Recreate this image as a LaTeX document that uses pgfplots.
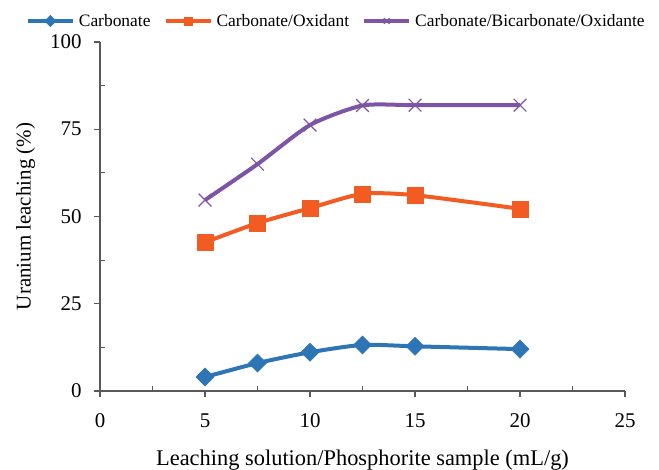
\documentclass[border=0pt]{standalone}
\usepackage{pgfplots}
\pgfplotsset{compat=1.18}
\usepackage{fontspec}
\setmainfont{Liberation Serif}
\definecolor{cblue}{HTML}{2E75B6}
\definecolor{corange}{HTML}{F25C22}
\definecolor{cpurple}{HTML}{7E55A6}
\definecolor{axgray}{HTML}{595959}
\newcommand{\tf}{\fontsize{21}{23}\selectfont}
\begin{document}
\begin{tikzpicture}[x=1bp,y=1bp]
\path[use as bounding box] (-100,-79) rectangle (559,391);
\begin{axis}[
  at={(0,0)}, anchor=origin,
  scale only axis, width=525bp, height=349bp,
  xmin=0, xmax=25, ymin=0, ymax=100,
  xtick={0,5,10,15,20,25}, ytick={0,25,50,75,100},
  xticklabels={{\tf 0},{\tf 5},{\tf 10},{\tf 15},{\tf 20},{\tf 25}},
  yticklabels={{\tf 0},{\tf 25},{\tf 50},{\tf 75},{\tf 100}},
  minor xtick={2.5,7.5,...,22.5}, minor ytick={12.5,37.5,62.5,87.5},
  axis x line=bottom, axis y line=left,
  axis line style={axgray, line width=1.1pt, -},
  major tick style={axgray, line width=1.1pt},
  minor tick style={axgray, line width=1.1pt},
  tick align=outside,
  major tick length=6bp, minor tick length=-5bp,
  xticklabel style={yshift=-13bp},
  yticklabel style={xshift=-9bp},
  xlabel={Leaching solution/Phosphorite sample (mL/g)},
  ylabel={Uranium leaching (\%)},
  xlabel style={font=\fontsize{22.5}{24}\selectfont, yshift=-15bp},
  ylabel style={font=\fontsize{21}{24}\selectfont, yshift=8bp},
  legend columns=3,
  legend style={at={(rel axis cs:0.45,1)}, anchor=south, yshift=12bp, draw=none, inner sep=0pt,
    font=\fontsize{17.5}{20}\selectfont, column sep=2bp, /tikz/every even column/.append style={column sep=11bp}},
  legend image code/.code={
    \draw[#1, mark=none] (0bp,0bp) -- (45bp,0bp);
    \draw[#1, only marks, mark size=4bp] plot coordinates {(22.5bp,0bp)};
  },
  clip=false,
]
\addplot[cblue, line width=4bp, smooth, tension=0.4, mark=square*, mark size=6.4bp, mark options={line width=0.5pt, fill=cblue, rotate=45}]
coordinates {(5,4.0) (7.5,8.0) (10,11.1) (12.5,13.2) (15,12.8) (20,12.0)};
\addlegendentry{Carbonate}
\addplot[corange, line width=4bp, smooth, tension=0.4, mark=square*, mark size=8bp, mark options={line width=0.5pt, fill=corange}]
coordinates {(5,42.6) (7.5,48.1) (10,52.4) (12.5,56.5) (15,56.1) (20,52.2)};
\addlegendentry{Carbonate/Oxidant}
\addplot[cpurple, line width=4bp, smooth, tension=0.4, mark=x, mark size=9bp, mark options={line width=1.2pt}]
coordinates {(5,54.7) (7.5,65.0) (10,76.2) (12.5,81.8) (15,81.9) (20,81.9)};
\addlegendentry{Carbonate/Bicarbonate/Oxidante}
\end{axis}
\end{tikzpicture}
\end{document}
